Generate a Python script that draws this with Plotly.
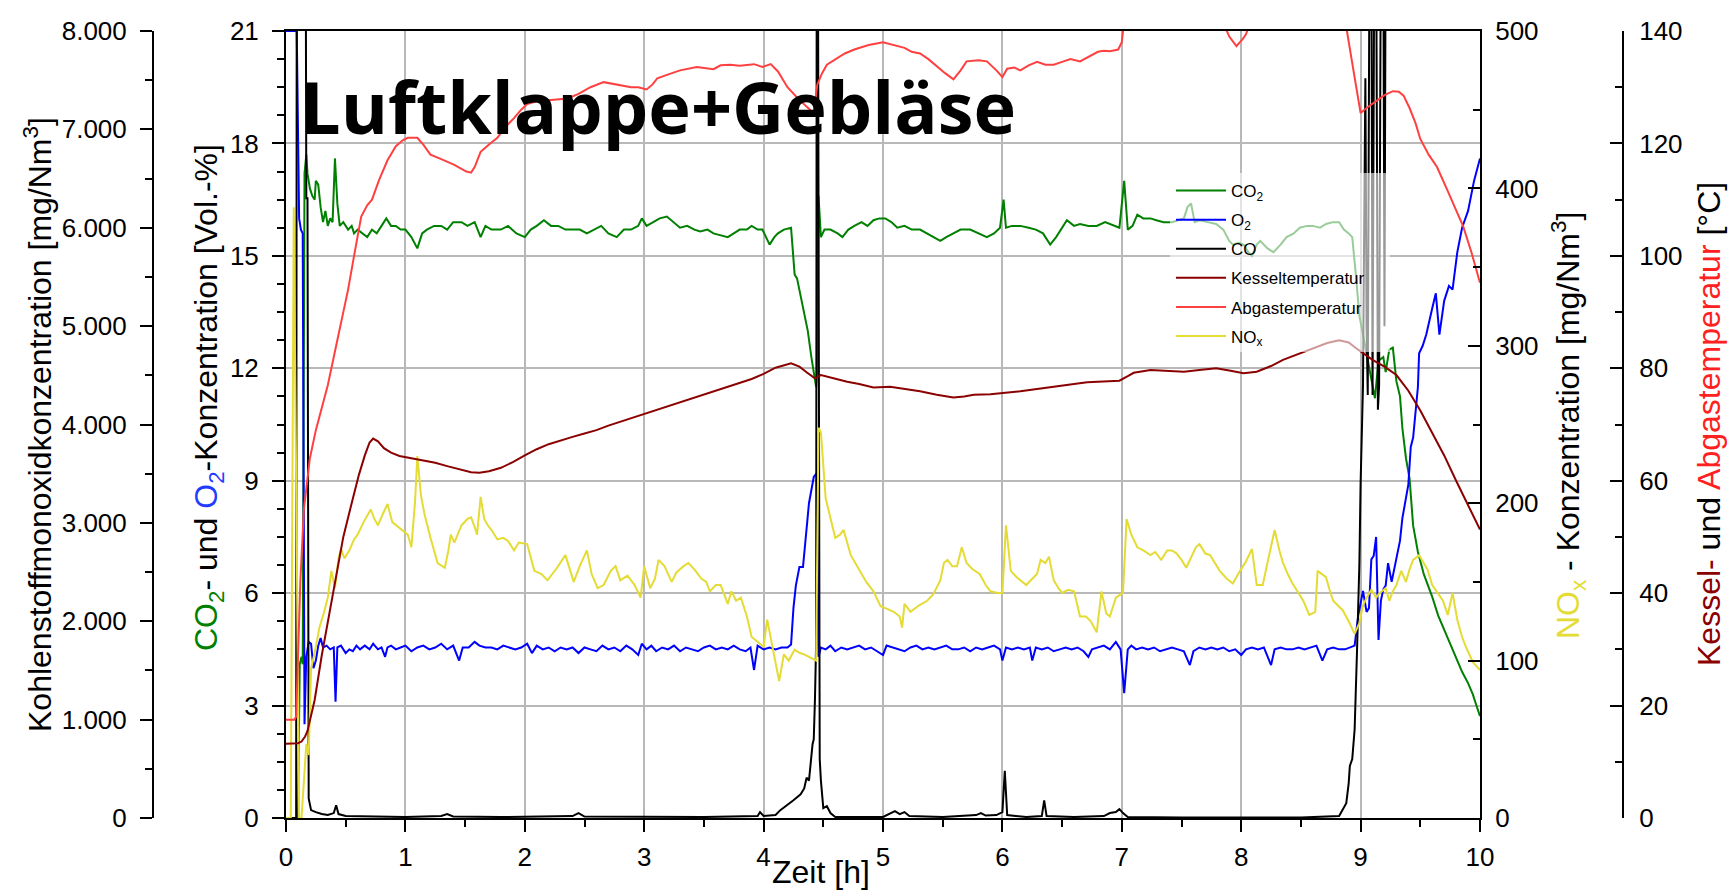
import plotly.graph_objects as go

# ---------------- data ----------------
t_co2 = [0.00,0.10,0.115,0.13,0.14,0.155,0.17,0.18,0.20,0.22,0.24,0.25,0.27,0.29,0.31,0.33,0.35,0.37,0.39,0.41,0.43,0.45,0.48,0.52,0.55,0.57,0.60,0.64,0.68,0.72,0.76,0.80,0.84,0.88,0.92,0.96,1.00,1.05,1.10,1.14,1.18,1.24,1.30,1.35,1.40,1.47,1.52,1.58,1.63,1.67,1.72,1.80,1.86,1.93,2.00,2.05,2.10,2.16,2.22,2.28,2.34,2.40,2.46,2.52,2.58,2.64,2.70,2.77,2.83,2.89,2.95,2.98,3.02,3.08,3.13,3.19,3.25,3.30,3.36,3.42,3.47,3.53,3.58,3.64,3.70,3.75,3.80,3.86,3.90,3.95,3.99,4.05,4.09,4.12,4.17,4.23,4.26,4.28,4.31,4.34,4.37,4.40,4.44,4.45,4.46,4.48,4.51,4.56,4.62,4.66,4.71,4.76,4.82,4.87,4.92,4.97,5.02,5.07,5.12,5.18,5.24,5.31,5.37,5.43,5.48,5.53,5.59,5.65,5.73,5.80,5.87,5.93,5.98,6.01,6.03,6.08,6.15,6.22,6.28,6.34,6.40,6.45,6.50,6.54,6.60,6.65,6.72,6.79,6.86,6.93,6.98,7.02,7.05,7.09,7.13,7.18,7.24,7.29,7.35,7.42,7.47,7.52,7.55,7.58,7.61,7.65,7.72,7.79,7.85,7.90,7.93,7.98,8.02,8.06,8.09,8.13,8.16,8.22,8.27,8.33,8.38,8.44,8.49,8.55,8.60,8.66,8.71,8.77,8.82,8.86,8.90,8.93,8.96,8.99,9.02,9.05,9.08,9.10,9.12,9.15,9.19,9.21,9.24,9.27,9.30,9.33,9.35,9.38,9.41,9.44,9.48,9.53,9.60,9.65,9.69,9.73,9.77,9.81,9.85,9.90,9.94,9.97,10.00]
co2 = [0.0,0.0,4.1,4.3,4.1,17.2,17.7,17.2,16.8,16.6,16.5,17.0,16.9,16.3,15.9,16.2,15.8,16.0,15.9,17.6,16.4,15.8,15.9,15.7,15.8,15.6,15.7,15.6,15.5,15.7,15.6,15.8,16.0,15.8,15.8,15.7,15.7,15.5,15.2,15.6,15.7,15.8,15.8,15.7,15.9,15.9,15.8,15.9,15.5,15.8,15.7,15.7,15.8,15.6,15.5,15.7,15.8,15.95,15.8,15.8,15.7,15.7,15.7,15.6,15.7,15.8,15.6,15.5,15.7,15.7,15.8,16.0,15.8,15.9,16.0,16.05,15.9,15.75,15.8,15.7,15.65,15.7,15.6,15.55,15.5,15.6,15.7,15.7,15.8,15.7,15.7,15.3,15.5,15.6,15.7,15.75,14.5,14.4,13.9,13.5,13.0,12.3,11.5,12.0,16.6,15.5,15.7,15.7,15.6,15.5,15.7,15.8,15.9,15.8,15.95,16.0,16.0,15.9,15.75,15.8,15.7,15.7,15.6,15.5,15.4,15.5,15.6,15.7,15.7,15.6,15.5,15.6,15.75,16.5,15.75,15.8,15.8,15.75,15.7,15.6,15.3,15.5,15.75,15.95,15.8,15.85,15.8,15.8,15.9,15.8,15.75,17.0,15.7,15.8,16.1,16.0,16.0,15.95,15.9,15.9,15.95,16.0,16.3,16.4,15.9,15.95,15.9,15.85,15.7,15.4,15.3,15.35,15.3,15.1,15.0,15.3,15.4,15.2,15.1,15.3,15.5,15.6,15.75,15.8,15.8,15.75,15.85,15.9,15.9,15.7,15.6,15.5,14.5,13.4,12.9,12.4,11.8,11.5,11.2,12.2,12.3,11.9,12.5,12.55,11.65,11.25,10.4,9.6,9.06,7.8,7.1,6.5,5.9,5.4,5.1,4.8,4.5,4.2,3.9,3.6,3.3,3.0,2.72]

t_o2 = [0.00,0.09,0.11,0.125,0.14,0.155,0.17,0.19,0.21,0.23,0.25,0.27,0.29,0.31,0.34,0.37,0.40,0.415,0.43,0.46,0.50,0.53,0.56,0.59,0.62,0.66,0.70,0.73,0.77,0.80,0.83,0.85,0.88,0.92,0.96,1.00,1.05,1.10,1.15,1.20,1.25,1.30,1.35,1.40,1.45,1.48,1.53,1.58,1.62,1.67,1.72,1.77,1.82,1.87,1.92,1.97,2.02,2.06,2.10,2.15,2.20,2.25,2.30,2.35,2.40,2.45,2.50,2.55,2.60,2.65,2.70,2.75,2.80,2.85,2.90,2.95,2.98,3.02,3.06,3.10,3.15,3.20,3.25,3.30,3.35,3.40,3.45,3.50,3.55,3.60,3.65,3.70,3.75,3.80,3.85,3.89,3.92,3.95,4.00,4.05,4.10,4.15,4.20,4.23,4.25,4.27,4.30,4.33,4.36,4.38,4.42,4.445,4.46,4.48,4.52,4.56,4.60,4.65,4.70,4.75,4.80,4.85,4.90,4.95,5.00,5.03,5.08,5.13,5.18,5.23,5.28,5.33,5.38,5.43,5.48,5.53,5.58,5.63,5.68,5.73,5.78,5.83,5.88,5.93,5.98,6.00,6.03,6.08,6.13,6.18,6.23,6.25,6.28,6.33,6.38,6.43,6.48,6.53,6.58,6.63,6.68,6.72,6.75,6.80,6.85,6.90,6.95,6.99,7.02,7.05,7.08,7.12,7.17,7.22,7.27,7.32,7.37,7.42,7.47,7.52,7.57,7.60,7.65,7.70,7.75,7.80,7.85,7.90,7.95,8.00,8.04,8.09,8.14,8.19,8.25,8.28,8.33,8.38,8.43,8.48,8.53,8.58,8.63,8.68,8.72,8.77,8.82,8.87,8.92,8.95,8.98,9.02,9.05,9.07,9.09,9.11,9.13,9.15,9.17,9.19,9.21,9.23,9.26,9.30,9.33,9.35,9.40,9.42,9.44,9.48,9.49,9.52,9.55,9.60,9.63,9.66,9.70,9.72,9.74,9.77,9.81,9.85,9.90,9.95,10.00]
o2 = [21,21,16.0,15.7,15.6,2.5,4.3,4.7,4.65,4.0,4.2,4.6,4.8,4.55,4.6,4.5,4.55,3.1,4.55,4.6,4.4,4.5,4.45,4.6,4.5,4.6,4.5,4.65,4.5,4.55,4.3,4.55,4.6,4.5,4.55,4.6,4.45,4.55,4.6,4.5,4.55,4.65,4.5,4.6,4.2,4.55,4.55,4.7,4.6,4.55,4.55,4.5,4.6,4.55,4.5,4.55,4.65,4.4,4.6,4.5,4.55,4.45,4.55,4.5,4.55,4.4,4.55,4.5,4.45,4.6,4.5,4.55,4.45,4.6,4.5,4.35,4.65,4.5,4.6,4.45,4.55,4.5,4.6,4.45,4.55,4.5,4.45,4.55,4.6,4.5,4.55,4.5,4.6,4.5,4.45,4.55,3.95,4.6,4.5,4.55,4.5,4.55,4.55,4.63,5.6,6.2,6.7,6.7,7.8,8.4,9.1,9.2,4.3,4.55,4.5,4.6,4.45,4.55,4.5,4.55,4.6,4.5,4.55,4.45,4.35,4.6,4.55,4.5,4.45,4.55,4.6,4.5,4.55,4.5,4.55,4.6,4.5,4.5,4.55,4.45,4.55,4.5,4.55,4.6,4.5,4.2,4.55,4.5,4.55,4.5,4.55,4.2,4.55,4.5,4.55,4.45,4.5,4.55,4.5,4.55,4.45,4.3,4.5,4.55,4.6,4.5,4.7,4.5,3.33,4.5,4.6,4.5,4.55,4.5,4.55,4.45,4.5,4.55,4.5,4.45,4.08,4.45,4.55,4.5,4.55,4.5,4.55,4.45,4.5,4.35,4.5,4.55,4.5,4.55,4.08,4.5,4.55,4.5,4.5,4.55,4.5,4.55,4.6,4.2,4.5,4.55,4.5,4.5,4.55,4.6,5.4,6.06,5.5,5.6,6.9,7.0,7.5,4.75,5.8,6.1,6.2,6.8,6.3,6.9,7.4,8.0,8.9,9.9,10.15,11.5,12.4,12.6,12.9,13.6,14.0,12.9,13.8,14.0,14.2,14.1,15.1,15.75,16.2,17.0,17.6]

t_co = [0.00,0.085,0.09,0.165,0.17,0.18,0.19,0.21,0.25,0.30,0.35,0.40,0.42,0.44,0.50,0.70,1.00,1.30,1.35,1.40,1.80,2.40,2.45,2.50,3.00,3.50,3.95,3.97,4.00,4.10,4.14,4.20,4.25,4.31,4.34,4.36,4.38,4.41,4.42,4.43,4.44,4.445,4.455,4.47,4.48,4.50,4.53,4.56,4.60,5.00,5.05,5.10,5.14,5.18,5.22,5.50,5.78,5.82,5.86,5.95,6.00,6.02,6.04,6.20,6.33,6.35,6.37,6.60,6.85,6.90,6.95,6.98,7.01,7.05,7.50,8.00,8.50,8.82,8.86,8.88,8.90,8.91,8.93,8.95,8.97,8.99,9.00,9.02,9.03,9.04,9.05,9.06,9.075,9.09,9.10,9.115,9.13,9.145,9.155,9.17,9.19,9.20,9.21,10.00]
co = [0,0,9000,9000,6300,6300,200,80,60,40,30,50,130,40,20,15,10,20,40,15,10,20,50,15,10,10,20,60,20,30,80,130,180,240,300,410,380,750,800,1200,1780,9000,9000,600,380,100,120,50,10,10,40,70,40,60,20,10,30,50,25,30,60,480,30,10,20,180,20,10,20,50,60,90,50,10,5,5,5,20,100,150,350,530,600,900,1700,2600,3400,4400,6000,7520,5000,4300,9000,9000,4300,9000,9000,4150,4400,9000,9000,5000,9000,9000]

t_kessel = [0.00,0.05,0.10,0.13,0.16,0.18,0.21,0.24,0.30,0.36,0.42,0.48,0.55,0.61,0.66,0.70,0.73,0.77,0.82,0.88,0.95,1.05,1.15,1.25,1.35,1.45,1.55,1.62,1.70,1.80,1.90,2.00,2.10,2.20,2.30,2.40,2.50,2.60,2.70,2.80,2.90,3.00,3.10,3.20,3.30,3.40,3.50,3.60,3.70,3.80,3.90,4.00,4.10,4.23,4.30,4.36,4.40,4.43,4.48,4.55,4.62,4.70,4.80,4.92,5.06,5.20,5.31,5.45,5.59,5.68,5.76,5.90,6.01,6.15,6.29,6.45,6.60,6.71,6.85,6.98,7.05,7.10,7.24,7.40,7.52,7.65,7.79,7.90,8.02,8.13,8.25,8.35,8.50,8.60,8.72,8.82,8.90,8.96,9.00,9.10,9.20,9.30,9.40,9.50,9.60,9.70,9.80,9.90,10.00]
kessel = [13.2,13.2,13.3,13.6,14.5,15.5,18,21,29,36,43,50,56,61,64.5,66.8,67.5,67,65.8,65,64.4,64,63.6,63.2,62.6,62,61.5,61.4,61.7,62.3,63.3,64.5,65.6,66.5,67.2,67.8,68.4,69,69.8,70.5,71.2,71.8,72.5,73.2,73.9,74.6,75.3,76,76.7,77.4,78.1,79,80.1,80.9,80.3,79.3,78.6,78.2,78.8,78.4,78,77.6,77.2,76.6,76.7,76.3,75.9,75.3,74.8,75.0,75.3,75.4,75.6,75.9,76.3,76.7,77.2,77.5,77.7,77.8,78.6,79.2,79.7,79.6,79.4,79.7,80,79.6,79.1,79.4,80.4,81.5,82.7,83.6,84.5,85,84.6,83.6,83,81.5,80.3,78.8,76,72.5,68.5,64.5,60,55.6,51.3]

t_abgas = [0.00,0.07,0.085,0.10,0.12,0.15,0.20,0.25,0.30,0.35,0.42,0.47,0.52,0.57,0.63,0.68,0.72,0.78,0.85,0.92,0.98,1.02,1.10,1.15,1.21,1.30,1.41,1.51,1.55,1.58,1.63,1.70,1.77,1.84,1.91,1.97,2.02,2.10,2.19,2.28,2.36,2.45,2.55,2.66,2.75,2.82,2.89,2.95,3.02,3.07,3.11,3.19,3.30,3.44,3.50,3.58,3.64,3.72,3.80,3.92,3.99,4.06,4.12,4.20,4.30,4.36,4.42,4.45,4.49,4.53,4.60,4.68,4.76,4.88,5.00,5.09,5.18,5.24,5.31,5.38,5.45,5.52,5.59,5.65,5.70,5.80,5.87,5.95,6.00,6.04,6.10,6.15,6.22,6.29,6.36,6.43,6.50,6.57,6.65,6.74,6.80,6.85,6.90,6.97,7.00,7.02,7.84,7.90,7.96,8.01,8.04,8.08,8.87,8.94,9.00,9.05,9.13,9.20,9.27,9.32,9.36,9.41,9.46,9.50,9.57,9.64,9.72,9.80,9.86,9.93,10.00]
abgas = [17.5,17.5,18,28,42,55,64,69,73,77,84,89,94,100,107,109,110,113.5,117,119.5,120.6,121,121,119.8,118,117.2,116.2,115,114.8,115.8,118.5,119.8,121,123,124.5,126,127,127.5,127.7,127.8,128,128.8,130,130.9,130.6,130.3,130,130,129.6,130.5,131.6,132.2,133,133.6,133.4,133.2,133.9,134,133.8,134.1,133.6,134.1,132.8,130,127.7,126.5,125.4,130.5,132.5,134,135,136,136.7,137.5,138,137.5,137,136.3,136,135,133.7,132.5,131.4,133,134.6,134.8,134.6,133,131.8,133.3,133.5,133,133.9,134.5,134,134,134.5,135,134.6,135.6,136.3,136.5,136.4,136.7,138,142,142,139,137.3,138.5,139.4,142,142,133,125.4,126.3,127.5,128.6,129.3,129.2,128.5,126.3,123.6,120.8,118,115.8,112,108,105.2,100.5,95.2]

t_nox = [0.00,0.04,0.065,0.075,0.11,0.13,0.17,0.19,0.21,0.24,0.28,0.32,0.35,0.38,0.41,0.44,0.46,0.49,0.53,0.57,0.60,0.65,0.71,0.74,0.77,0.81,0.85,0.89,0.94,0.98,1.02,1.05,1.08,1.10,1.13,1.16,1.21,1.27,1.33,1.36,1.38,1.41,1.47,1.52,1.55,1.58,1.60,1.63,1.66,1.69,1.73,1.77,1.82,1.86,1.91,1.95,2.02,2.08,2.14,2.19,2.23,2.27,2.34,2.38,2.41,2.46,2.52,2.56,2.61,2.66,2.72,2.76,2.80,2.86,2.92,2.97,3.00,3.05,3.09,3.12,3.17,3.23,3.27,3.33,3.37,3.42,3.48,3.52,3.55,3.60,3.64,3.70,3.73,3.77,3.81,3.86,3.90,3.95,4.00,4.03,4.07,4.13,4.17,4.21,4.26,4.30,4.34,4.39,4.44,4.46,4.48,4.52,4.56,4.60,4.64,4.67,4.73,4.77,4.81,4.86,4.92,4.98,5.03,5.09,5.14,5.16,5.18,5.23,5.30,5.37,5.42,5.48,5.51,5.54,5.58,5.62,5.66,5.70,5.75,5.81,5.86,5.90,5.96,6.00,6.03,6.07,6.12,6.17,6.20,6.25,6.29,6.32,6.36,6.39,6.43,6.47,6.50,6.55,6.60,6.65,6.70,6.74,6.79,6.83,6.87,6.90,6.95,7.01,7.04,7.08,7.13,7.18,7.24,7.28,7.33,7.38,7.42,7.46,7.50,7.54,7.58,7.62,7.65,7.70,7.74,7.78,7.82,7.88,7.93,7.99,8.04,8.09,8.13,8.18,8.24,8.28,8.32,8.35,8.39,8.43,8.48,8.52,8.57,8.62,8.64,8.68,8.71,8.74,8.77,8.81,8.85,8.90,8.95,8.99,9.02,9.05,9.09,9.13,9.16,9.21,9.24,9.27,9.30,9.34,9.38,9.41,9.44,9.49,9.53,9.56,9.60,9.65,9.69,9.73,9.77,9.81,9.85,9.88,9.94,10.00]
nox = [0,0,388,300,0,0,47,40,95,105,121,131,140,157,146,165,171,165,170,177,180,188,196,190,186,193,199.5,188,185,183,180,172,200,230,205,193,178,162,159,170,180,175,186,190,191,185,180,204,190,186,182,177,178,176,170,175,174,157,155,151,155,159,167,158,150,160,170,155,146,148,157,160,151,154,148,140,160,146,152,164,160,150,156,160,162,158,152,150,144,148,148,136,144,138,140,128,115,112,108.6,126,110,87,104,100,107,105,104,102,100,248,245,203,190,178,180,183,167,162,157,150,144,134.5,133,131,128,121,136,131,135,138,142,151,162,164,160,160,172,162,158,155,148,144,143,143,186,157,153,150,148,152,155,164,162,166,151,146,143,145,144,128,128,125,118,144,130,128,140,143,190,180,172,170,167,169,164,170,170,168,164,159,166,172,174,168,167,162,157,152,149,157,163,171,148,148,170,183,170,162,155,149,143,138,129,131,157,155,153,145,138,135,132,125,117,124,135,140,145,140,143,146,138,144,148,157,150,158,164,167,162,158,148,142,138,129,143,126,115,109,99,94]

series_names = ["CO<sub>2</sub>", "O<sub>2</sub>", "CO", "Kesseltemperatur", "Abgastemperatur", "NO<sub>x</sub>"]
series_colors = ["#008000", "#0000ff", "#000000", "#8b0000", "#ff4040", "#e5db35"]

# ---------------- figure ----------------
W, H = 1736, 891
PX = lambda x: x / W
PY = lambda y: 1 - y / H

fig = go.Figure()
traces = [
    (t_co2, co2, "y"),
    (t_o2, o2, "y"),
    (t_co, co, "y2"),
    (t_kessel, kessel, "y4"),
    (t_abgas, abgas, "y4"),
    (t_nox, nox, "y3"),
]
for i, (tx, ty, ax) in enumerate(traces):
    fig.add_trace(go.Scatter(
        x=tx, y=ty, yaxis=ax, mode="lines", name=series_names[i],
        line=dict(color=series_colors[i], width=2),
        legendrank=i + 1, legendgroup=f"g{i}",
    ))

FONT = "Liberation Sans, Arial, sans-serif"
TICKF = dict(family=FONT, size=26, color="black")
xdom = [PX(286), PX(1480)]
ydom = [PY(818), PY(31)]

common = dict(showline=True, linecolor="black", linewidth=2, zeroline=False, automargin=False,
              tickcolor="black", tickwidth=2, ticklen=12, tickfont=TICKF)
minor_out = dict(ticks="outside", ticklen=7, tickwidth=2, tickcolor="black", showgrid=False)
minor_in = dict(ticks="inside", ticklen=7, tickwidth=2, tickcolor="black", showgrid=False)

fig.update_layout(
    width=W, height=H, margin=dict(l=0, r=0, t=0, b=0, pad=0, autoexpand=False),
    paper_bgcolor="white", plot_bgcolor="white",
    separators=",.",
    font=dict(family=FONT, color="black"),
    xaxis=dict(domain=xdom, range=[0, 10], dtick=1, tick0=0, ticks="outside",
               showgrid=True, gridcolor="#b8b8b8", gridwidth=1.5, mirror=True,
               ticklabelstandoff=3,
               minor=dict(dtick=0.5, **minor_out), **common),
    yaxis=dict(domain=ydom, range=[0, 21], dtick=3, tick0=0, ticks="outside", anchor="x",
               showgrid=True, gridcolor="#b8b8b8", gridwidth=1.5, ticklabelstandoff=8,
               minor=dict(dtick=0.75, **minor_out), **common),
    yaxis2=dict(domain=ydom, range=[0, 8000], dtick=1000, tick0=0, ticks="outside",
                overlaying="y", anchor="free", position=PX(153), side="left",
                tickformat=",d", showgrid=False, ticklabelstandoff=8,
                minor=dict(dtick=500, **minor_out), **common),
    yaxis3=dict(domain=ydom, range=[0, 500], dtick=100, tick0=0, ticks="inside",
                overlaying="y", anchor="x", side="right", showgrid=False, ticklabelstandoff=8,
                minor=dict(dtick=50, **minor_in), **common),
    yaxis4=dict(domain=ydom, range=[0, 140], dtick=20, tick0=0, ticks="inside",
                overlaying="y", anchor="free", position=PX(1623), side="right", showgrid=False,
                ticklabelstandoff=10,
                minor=dict(dtick=10, **minor_in), **common),
    legend=dict(x=PX(1171), y=PY(173), xanchor="left", yanchor="top",
                bgcolor="rgba(0,0,0,0)", borderwidth=0,
                font=dict(family=FONT, size=17, color="black"),
                itemwidth=50, traceorder="grouped", tracegroupgap=4),
    showlegend=True,
)

# semi-transparent legend background
fig.add_shape(type="rect", xref="paper", yref="paper",
              x0=PX(1170), x1=PX(1390), y0=PY(352), y1=PY(173),
              fillcolor="rgba(255,255,255,0.6)", line=dict(width=0), layer="above")

TF = dict(family=FONT, size=32, color="black")
ann = [
    dict(x=PX(38), y=PY(425), text="Kohlenstoffmonoxidkonzentration [mg/Nm<sup>3</sup>]", textangle=-90),
    dict(x=PX(209), y=PY(398),
         text="<span style='color:#008000'>CO<sub>2</sub></span>- und <span style='color:#1f3cff'>O<sub>2</sub></span>-Konzentration [Vol.-%]",
         textangle=-90),
    dict(x=PX(1568), y=PY(426),
         text="<span style='color:#e5db35'>NO<sub>x</sub></span> - Konzentration [mg/Nm<sup>3</sup>]", textangle=-90),
    dict(x=PX(1709), y=PY(424),
         text="<span style='color:#8b0000'>Kessel-</span> und <span style='color:#ff2020'>Abgastemperatur</span> [°C]",
         textangle=-90),
    dict(x=PX(821), y=PY(872), text="Zeit [h]", textangle=0),
]
for a in ann:
    fig.add_annotation(xref="paper", yref="paper", showarrow=False,
                       xanchor="center", yanchor="middle", font=TF, **a)

fig.add_annotation(xref="paper", yref="paper", showarrow=False,
                   x=PX(298), y=PY(106), xanchor="left", yanchor="middle",
                   text="Luftklappe+Gebläse",
                   font=dict(family="Open Sans", size=72, color="black", weight="bold"))

fig.write_html("out.html", config={"displayModeBar": False},
               post_script="document.body.style.margin='0px';document.body.style.overflow='hidden';")
